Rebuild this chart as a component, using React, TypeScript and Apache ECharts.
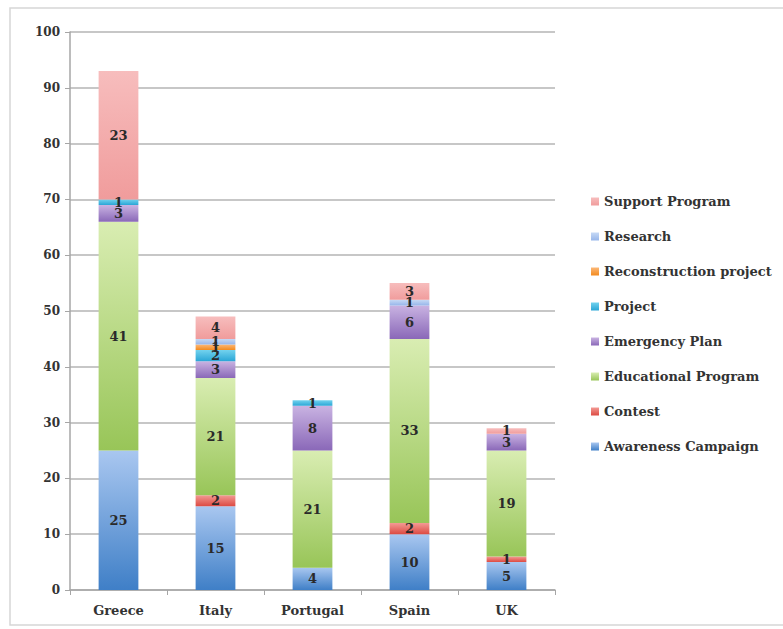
import React, { useEffect, useRef } from "react";
import * as echarts from "echarts";

const categories = ["Greece", "Italy", "Portugal", "Spain", "UK"];
const seriesNames = [
  "Awareness Campaign",
  "Contest",
  "Educational Program",
  "Emergency Plan",
  "Project",
  "Reconstruction project",
  "Research",
  "Support Program",
];
const awareness = [25, 15, 4, 10, 5];
const contest = [0, 2, 0, 2, 1];
const educational = [41, 21, 21, 33, 19];
const emergency = [3, 3, 8, 6, 3];
const project = [1, 2, 1, 0, 0];
const reconstruction = [0, 1, 0, 0, 0];
const research = [0, 1, 0, 1, 0];
const support = [23, 4, 0, 3, 1];
const yTicks = [0, 10, 20, 30, 40, 50, 60, 70, 80, 90, 100];

const seriesValues = [awareness, contest, educational, emergency, project, reconstruction, research, support];
const gradients: [string, string, string][] = [
  ["#a9c7f0", "#3f7fc7", "#4a88cb"],
  ["#f39a94", "#dc4a42", "#e25a52"],
  ["#d9edb2", "#98c558", "#8dc051"],
  ["#c9b3e2", "#8a68b8", "#9676c2"],
  ["#72d2ee", "#2aa6d6", "#3cb6e0"],
  ["#fcb878", "#f28a1e", "#f6962e"],
  ["#c6d9f5", "#97b6ea", "#a3bfee"],
  ["#f7bdbd", "#f09c9c", "#f2a9a9"],
];

export default function App() {
  const ref = useRef<HTMLDivElement>(null);
  useEffect(() => {
    if (!ref.current) return;
    const chart = echarts.init(ref.current, null, { renderer: "svg" });
    const font = "DejaVu Serif";
    chart.setOption({
      animation: false,
      backgroundColor: "#ffffff",
      textStyle: { fontFamily: font },
      graphic: [
        {
          type: "rect",
          shape: { x: 10, y: 8, width: 790, height: 617 },
          style: { fill: "none", stroke: "#d6d6d6", lineWidth: 1.5 },
          silent: true,
        },
      ],
      grid: { left: 70, right: 228, top: 32, bottom: 39 },
      legend: {
        orient: "vertical",
        left: 586,
        top: 190,
        itemWidth: 8,
        itemHeight: 8,
        itemGap: 22,
        icon: "rect",
        textStyle: { fontFamily: font, fontSize: 13, color: "#333", fontWeight: "bold" },
        data: seriesNames.slice().reverse(),
      },
      xAxis: {
        type: "category",
        data: categories,
        axisLine: { lineStyle: { color: "#a6a6a6", width: 1.5 } },
        axisTick: { show: true, alignWithLabel: false, length: 5, lineStyle: { color: "#a6a6a6" } },
        axisLabel: { fontFamily: font, fontSize: 13, color: "#333", fontWeight: "bold", margin: 14 },
      },
      yAxis: {
        type: "value",
        min: 0,
        max: 100,
        interval: 10,
        axisLine: { show: true, lineStyle: { color: "#a6a6a6", width: 1.5 } },
        axisTick: { show: true, length: 5, lineStyle: { color: "#a6a6a6" } },
        splitLine: { lineStyle: { color: "#b4b4b4", width: 1.5 } },
        axisLabel: {
          fontFamily: font,
          fontSize: 12,
          color: "#333",
          fontWeight: "bold",
          margin: 10,
          formatter: (v: number) => (yTicks.includes(v) ? String(v) : ""),
        },
      },
      series: seriesNames.map((name, i) => ({
        name,
        type: "bar",
        stack: "total",
        barWidth: "41%",
        data: seriesValues[i],
        itemStyle: {
          color: {
            type: "linear",
            x: 0,
            y: 0,
            x2: 0,
            y2: 1,
            colorStops: [
              { offset: 0, color: gradients[i][0] },
              { offset: 1, color: gradients[i][1] },
            ],
          },
        },
        label: {
          show: true,
          position: "inside",
          fontFamily: font,
          fontSize: 13,
          fontWeight: "bold",
          color: "#2a2a2a",
          formatter: (p: any) => (p.value ? String(p.value) : ""),
        },
        emphasis: { disabled: true },
      })),
      color: gradients.map((g) => g[2]),
    });
    return () => chart.dispose();
  }, []);
  return (
    <div
      ref={ref}
      style={{ position: "absolute", left: 0, top: 0, width: 783, height: 629 }}
    />
  );
}
